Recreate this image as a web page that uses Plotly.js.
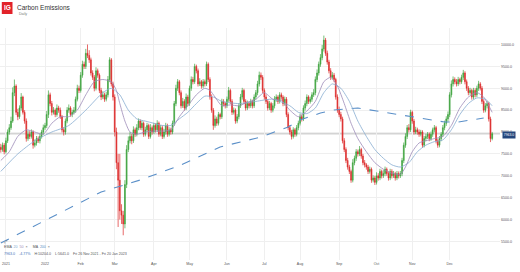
<!DOCTYPE html>
<html>
<head>
<meta charset="utf-8">
<script src="https://cdn.plot.ly/plotly-3.0.1.min.js"></script>
<style>html,body{margin:0;padding:0;background:#fff;}#chart{width:520px;height:272px;}</style>
</head>
<body>
<div id="chart"></div>
<script>
// Daily candles, Fri 26 Nov 2021 onward (trading-day index = position in arrays)
const openP = [
7650,7600,7700,7550,7800,8000,8100,8250,8900,9050,
8450,8350,8550,8800,8450,8250,7850,7950,7900,8000,
7700,7750,7850,7800,7900,8000,8100,8150,8400,8850,
8650,8450,8500,8400,8550,8500,8350,8050,8000,8250,
8500,8550,8400,8450,8500,8750,9000,8950,9300,9550,
9500,9800,9750,9650,9350,9250,9000,9400,9300,8950,
8800,8850,8750,8850,9200,9650,9100,8800,8000,7300,
6900,6200,6100,5900,6800,7600,7800,7900,7800,8050,
7950,8100,8250,8100,8200,7950,8050,8150,7900,8100,
8000,8150,8050,8200,7950,8100,7900,8000,8150,7950,
8050,8000,8200,8650,9000,9150,8900,8600,8700,8550,
8800,8650,9000,9200,9150,9500,9400,9100,9150,9050,
9150,9100,9550,9200,8800,8500,8150,8300,8200,8400,
8350,8700,8650,8600,8750,8950,8700,8450,8500,8250,
8350,8600,8800,8950,8700,8550,8650,8600,8700,8600,
8800,8900,9100,9300,9250,8950,8800,8700,8550,8650,
8500,8600,8750,8800,8700,8850,8800,8650,8750,8400,
8100,8000,7900,8050,7950,8100,8200,8350,8300,8550,
8650,8800,8700,8750,8850,8900,9200,9350,9550,9700,
9900,10100,9800,9600,9400,9250,9300,9200,8800,8500,
8400,8300,7800,7600,7350,7200,7100,6900,7300,7400,
7550,7500,7600,7450,7300,7250,7200,7100,7150,6900,
6950,6850,7000,6950,7100,7000,7050,7150,7050,6950,
7100,7000,7050,6950,7050,7000,7050,7350,7700,7900,
8100,8050,8450,8250,8000,8050,8000,7950,8000,7700,
7850,7900,7950,7850,7950,8050,8100,7800,7700,7850,
7950,8100,8200,8300,8400,8850,9100,9200,9150,9100,
9200,9150,9250,9350,9150,9000,8900,8950,8800,8950,
8850,9000,9100,9000,8700,8500,8600,8650,8300,7850
];
const highP = [
7730,7760,7750,7870,8060,8180,8350,9020,9200,9090,
8530,8610,8890,8830,8500,8310,8030,8020,8060,8040,
7830,7910,7900,7960,8050,8170,8210,8480,8950,8900,
8710,8570,8540,8630,8600,8560,8390,8110,8310,8570,
8630,8590,8510,8570,8810,9080,9060,9370,9630,9610,
9900,10000,9870,9700,9410,9300,9480,9450,9340,9010,
8930,8900,8920,9280,9710,9690,9150,8860,8100,7500,
7500,6350,6200,6900,7700,7900,8000,7960,8130,8100,
8180,8310,8290,8260,8240,8120,8210,8190,8180,8150,
8210,8200,8270,8240,8160,8150,8070,8210,8190,8110,
8100,8260,8710,9080,9210,9190,8950,8780,8750,8880,
8850,9060,9270,9260,9560,9540,9450,9230,9190,9210,
9200,9610,9590,9250,8860,8550,8380,8350,8460,8440,
8760,8750,8690,8810,9030,8990,8750,8560,8540,8410,
8660,8870,9010,8990,8750,8720,8690,8760,8740,8860,
8960,9170,9380,9360,9300,9000,8860,8750,8710,8690,
8660,8820,8860,8840,8910,8900,8840,8810,8800,8450,
8160,8050,8110,8090,8160,8260,8420,8400,8610,8720,
8860,8840,8810,8910,8980,9270,9430,9610,9780,9990,
10204,10150,9860,9650,9460,9370,9350,9240,8860,8580,
8460,8350,7860,7650,7410,7250,7140,7380,7460,7610,
7600,7680,7640,7500,7360,7290,7250,7210,7190,7010,
7000,7080,7060,7160,7140,7130,7210,7190,7100,7160,
7150,7110,7090,7110,7100,7110,7410,7760,7970,8160,
8180,8510,8490,8300,8120,8100,8060,8050,8040,7910,
7960,8000,7990,8010,8100,8160,8140,7850,7910,8000,
8160,8260,8360,8470,8910,9180,9270,9250,9210,9260,
9240,9310,9420,9390,9200,9050,9010,8990,9010,9000,
9060,9170,9140,9050,8750,8660,8710,8690,8350,8003
];
const lowP = [
7530,7550,7490,7510,7750,7940,8050,8210,8820,8390,
8270,8300,8490,8400,8190,7780,7800,7840,7850,7620,
7650,7690,7750,7740,7850,7940,8050,8090,8320,8590,
8380,8400,8340,8350,8440,8300,7990,7920,7940,8200,
8440,8350,8340,8400,8440,8700,8890,8900,9240,9440,
9440,9690,9580,9290,9190,8930,8950,9240,8890,8730,
8750,8690,8700,8790,9140,9040,8720,7900,7150,5830,
6000,5900,5641,5800,6720,7540,7740,7720,7750,7890,
7900,8040,8050,8040,7890,7900,7990,7840,7850,7940,
7950,7990,8000,7890,7900,7840,7850,7940,7890,7900,
7940,7950,8140,8590,8940,8840,8540,8550,8490,8500,
8590,8600,8940,9090,9100,9340,9040,9050,8990,9000,
9040,9050,9140,8740,8440,8050,8100,8140,8150,8290,
8300,8590,8540,8550,8690,8640,8390,8400,8190,8200,
8290,8550,8740,8640,8490,8500,8540,8550,8540,8550,
8740,8840,9040,9190,8890,8740,8640,8490,8500,8440,
8450,8540,8690,8640,8650,8740,8590,8600,8340,8040,
7940,7830,7850,7890,7900,8040,8150,8240,8250,8490,
8590,8640,8650,8690,8800,8840,9140,9290,9490,9640,
9840,9740,9540,9340,9190,9200,9140,8740,8440,8340,
8240,7740,7540,7290,7140,7040,6840,6850,7240,7340,
7440,7450,7390,7240,7190,7140,7040,7050,6840,6850,
6790,6800,6890,6900,6940,6950,6990,7000,6890,6900,
6940,6950,6890,6900,6940,6950,6990,7290,7640,7840,
7990,8000,8190,7940,7950,7940,7890,7900,7640,7650,
7790,7840,7790,7800,7890,7990,7740,7640,7650,7790,
7890,8040,8140,8240,8340,8790,9040,9090,9040,9050,
9090,9100,9190,9090,8940,8840,8850,8740,8750,8790,
8800,8940,8950,8640,8440,8450,8540,8240,7770,7810
];
const closeP = [
7600,7700,7550,7800,8000,8100,8250,8900,9050,8450,
8350,8550,8800,8450,8250,7850,7950,7900,8000,7700,
7750,7850,7800,7900,8000,8100,8150,8400,8850,8650,
8450,8500,8400,8550,8500,8350,8050,8000,8250,8500,
8550,8400,8450,8500,8750,9000,8950,9300,9550,9500,
9800,9750,9650,9350,9250,9000,9400,9300,8950,8800,
8850,8750,8850,9200,9650,9100,8800,8000,7300,6900,
6200,6100,5900,6800,7600,7800,7900,7800,8050,7950,
8100,8250,8100,8200,7950,8050,8150,7900,8100,8000,
8150,8050,8200,7950,8100,7900,8000,8150,7950,8050,
8000,8200,8650,9000,9150,8900,8600,8700,8550,8800,
8650,9000,9200,9150,9500,9400,9100,9150,9050,9150,
9100,9550,9200,8800,8500,8150,8300,8200,8400,8350,
8700,8650,8600,8750,8950,8700,8450,8500,8250,8350,
8600,8800,8950,8700,8550,8650,8600,8700,8600,8800,
8900,9100,9300,9250,8950,8800,8700,8550,8650,8500,
8600,8750,8800,8700,8850,8800,8650,8750,8400,8100,
8000,7900,8050,7950,8100,8200,8350,8300,8550,8650,
8800,8700,8750,8850,8900,9200,9350,9550,9700,9900,
10100,9800,9600,9400,9250,9300,9200,8800,8500,8400,
8300,7800,7600,7350,7200,7100,6900,7300,7400,7550,
7500,7600,7450,7300,7250,7200,7100,7150,6900,6950,
6850,7000,6950,7100,7000,7050,7150,7050,6950,7100,
7000,7050,6950,7050,7000,7050,7350,7700,7900,8100,
8050,8450,8250,8000,8050,8000,7950,8000,7700,7850,
7900,7950,7850,7950,8050,8100,7800,7700,7850,7950,
8100,8200,8300,8400,8850,9100,9200,9150,9100,9200,
9150,9250,9350,9150,9000,8900,8950,8800,8950,8850,
9000,9100,9000,8700,8500,8600,8650,8300,7850,7963
];

// Indicator lines (trading-day index, value)
const ema20Idx = [0,5,10,15,20,25,30,35,40,45,50,55,60,65,68,70,73,76,80,85,90,95,100,105,110,115,120,123,126,130,135,140,145,150,155,160,165,170,175,180,185,190,194,198,202,206,210,215,220,225,230,235,238,242,246,250,255,260,265,270,275,280,284,289];
const ema20Val = [7350,7550,7900,8050,8000,7950,8200,8350,8350,8500,8850,9150,9200,9150,8950,8650,8250,8000,7950,8000,8020,8020,8050,8350,8600,8850,9000,8950,8800,8600,8620,8600,8680,8750,8900,8750,8720,8500,8350,8480,8700,9150,9250,9050,8650,8200,7850,7550,7300,7150,7060,7030,7200,7550,7750,7800,7850,7900,8150,8550,8800,8900,8800,8450];
const ema50Idx = [0,10,20,30,40,50,60,65,70,75,80,85,90,95,100,105,110,115,120,125,130,140,150,160,170,175,180,185,190,195,200,205,210,215,220,225,230,235,240,245,250,255,260,265,270,275,280,285,289];
const ema50Val = [7100,7500,7800,8000,8150,8500,8900,9000,8850,8500,8300,8250,8200,8150,8150,8300,8450,8650,8820,8800,8700,8650,8700,8750,8600,8450,8420,8550,8900,9100,9000,8700,8250,7900,7600,7400,7250,7200,7300,7550,7700,7780,7820,8050,8400,8650,8780,8750,8600];
const ma200Idx = [0,29,59,82,106,129,153,169,176,188,196,210,224,241,261,269,276,284];
const ma200Val = [5464,6036,6630,6904,7247,7658,7886,8115,8275,8435,8503,8549,8458,8343,8229,8229,8275,8320];

// Axis ticks
const monthTickIdx = [3,26,47,67,90,111,133,155,176,199,221,242,264];
const monthTickText = ["2021","2022","Feb","Mar","Apr","May","Jun","Jul","Aug","Sep","Oct","Nov","Dec"];
const priceTicks = [5500,6000,6500,7000,7500,8000,8500,9000,9500,10000];
const lastPrice = 7963.0;
const infoLine = ["7963.0","-4.77%","H:10204.0","L:5641.0","Fri 26 Nov 2021 - Fri 20 Jan 2023"];

const dayIndex = closeP.map((_, i) => i);

// pixel helpers for layout placement
const W = 520, H = 272, mL = 0, mR = 20, mT = 28, mB = 12;
const pw = W - mL - mR, ph = H - mT - mB;
const px = x => (x - mL) / pw;
const py = y => (H - mB - y) / ph;

const FONT = "Liberation Sans, Arial, sans-serif";

const traces = [
  {
    type: 'scatter', mode: 'lines', x: ma200Idx, y: ma200Val,
    line: {color: '#5a8fc8', width: 1.1, dash: 'dash'}, hoverinfo: 'skip', showlegend: false
  },
  {
    type: 'scatter', mode: 'lines', x: ema50Idx, y: ema50Val,
    line: {color: '#86acd0', width: 0.8, shape: 'spline', smoothing: 0.6}, hoverinfo: 'skip', showlegend: false
  },
  {
    type: 'scatter', mode: 'lines', x: ema20Idx, y: ema20Val,
    line: {color: '#9c8ab8', width: 0.8, shape: 'spline', smoothing: 0.6}, hoverinfo: 'skip', showlegend: false
  },
  {
    type: 'candlestick', x: dayIndex, open: openP, high: highP, low: lowP, close: closeP,
    increasing: {line: {color: '#3ea33e', width: 0.7}, fillcolor: '#3ea33e'},
    decreasing: {line: {color: '#dc2a2a', width: 0.7}, fillcolor: '#dc2a2a'},
    whiskerwidth: 0, showlegend: false
  }
];

const layout = {
  width: W, height: H,
  margin: {l: mL, r: mR, t: mT, b: mB, pad: 0},
  paper_bgcolor: '#ffffff', plot_bgcolor: '#ffffff',
  font: {family: FONT, color: '#555', size: 4},
  showlegend: false,
  title: {
    text: 'Carbon Emissions', x: 17 / W, xanchor: 'left', xref: 'container',
    y: 1 - 7.5 / H, yanchor: 'middle', yref: 'container',
    font: {family: FONT, size: 6.5, color: '#333'}
  },
  xaxis: {
    type: 'linear', range: [-0.47, 293.6], rangeslider: {visible: false},
    tickvals: monthTickIdx, ticktext: monthTickText,
    showgrid: true, gridcolor: '#efefef', gridwidth: 1,
    zeroline: false, showline: false, ticks: '',
    tickfont: {family: FONT, size: 3.6, color: '#555'}, fixedrange: true
  },
  yaxis: {
    side: 'right', range: [5076, 10377], tickvals: priceTicks, tickformat: '.1f',
    showgrid: true, gridcolor: '#efefef', gridwidth: 1,
    zeroline: false, showline: false, ticks: '',
    tickfont: {family: FONT, size: 3.6, color: '#555'}, fixedrange: true
  },
  shapes: [
    {type: 'line', xref: 'paper', yref: 'y', x0: 0, x1: 1, y0: lastPrice, y1: lastPrice,
     line: {color: '#d4d4d4', width: 1.6}, layer: 'below'},
    {type: 'rect', xref: 'paper', yref: 'paper', x0: px(1.8), x1: px(12.5), y0: py(14), y1: py(2),
     fillcolor: '#e2222a', line: {width: 0}}
  ],
  annotations: [
    {xref: 'paper', yref: 'paper', x: px(7.1), y: py(8), text: '<b>IG</b>', showarrow: false,
     font: {family: FONT, size: 6.5, color: '#ffffff'}, xanchor: 'center', yanchor: 'middle'},
    {xref: 'paper', yref: 'paper', x: px(17), y: py(14), text: 'Daily', showarrow: false,
     font: {family: FONT, size: 3.6, color: '#777'}, xanchor: 'left', yanchor: 'middle'},
    {xref: 'paper', yref: 'y', x: px(502), y: lastPrice, yshift: -1.6, text: lastPrice.toFixed(1), showarrow: false,
     xanchor: 'left', yanchor: 'middle', bgcolor: '#24467c', borderpad: 0.8,
     font: {family: FONT, size: 3.4, color: '#ffffff'}},
    {xref: 'paper', yref: 'paper', x: px(2), y: py(241), text: '⤢', showarrow: false,
     xanchor: 'left', yanchor: 'middle', font: {family: FONT, size: 4, color: '#666'}},
    {xref: 'paper', yref: 'paper', x: px(2), y: py(246.5), showarrow: false, xanchor: 'left', yanchor: 'middle',
     text: "EMA  <span style='color:#7ea8cf'>20</span>  <span style='color:#9c8ab8'>50</span>  ×     MA  <span style='color:#5a8fc8'>200</span>  ×",
     font: {family: FONT, size: 3.6, color: '#555'}},
    {xref: 'paper', yref: 'paper', x: px(2), y: py(253.5), showarrow: false, xanchor: 'left', yanchor: 'middle',
     text: "<span style='color:#3d6fb8'>" + infoLine[0] + "</span>    <span style='color:#3d6fb8'>" + infoLine[1] + "</span>    " +
           infoLine[2] + "    " + infoLine[3] + "    " + infoLine[4],
     font: {family: FONT, size: 3.6, color: '#555'}}
  ]
};

Plotly.newPlot('chart', traces, layout, {staticPlot: true, displayModeBar: false});
</script>
</body>
</html>
